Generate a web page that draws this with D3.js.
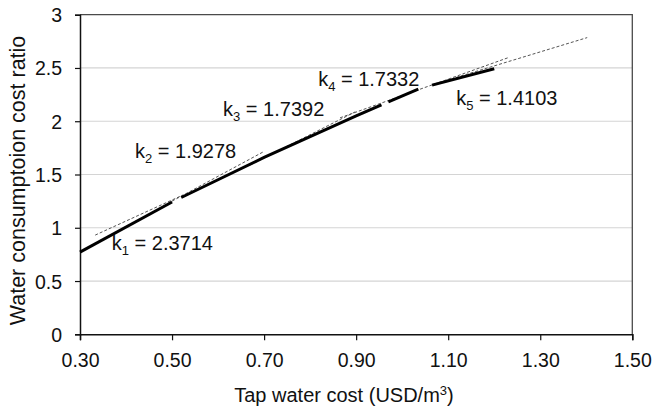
<!DOCTYPE html>
<html>
<head>
<meta charset="utf-8">
<script src="https://cdn.jsdelivr.net/npm/d3@7"></script>
<style>
  html, body { margin: 0; padding: 0; background: #fff; }
  svg { display: block; font-family: "Liberation Sans", Arial, sans-serif; }
</style>
</head>
<body>
<svg id="chart" width="654" height="409"></svg>
<script>
// ---- data ----
const xTicks = [0.30, 0.50, 0.70, 0.90, 1.10, 1.30, 1.50];
const yTicks = [0, 0.5, 1, 1.5, 2, 2.5, 3];
const xTickLabels = ["0.30", "0.50", "0.70", "0.90", "1.10", "1.30", "1.50"];
const yTickLabels = ["0", "0.5", "1", "1.5", "2", "2.5", "3"];

// piecewise curve (solid segments)
const seg1 = [[0.30, 0.771], [0.50, 1.242]];
const seg2 = [[0.52, 1.284], [0.70, 1.660], [0.90, 2.051], [0.955, 2.153]];
const seg3 = [[0.97, 2.181], [1.035, 2.301]];
const seg4 = [[1.065, 2.339], [1.20, 2.493]];
const solidSegments = [seg1, seg2, seg3, seg4];

// fitted slope lines (dashed)
const trend1 = [[0.333, 0.931], [0.524, 1.308]];
const trend2 = [[0.50, 1.250], [0.698, 1.712]];
const trend3 = [[0.670, 1.590], [0.898, 2.088]];
const trend4 = [[0.865, 2.032], [1.230, 2.596]];
const trend5 = [[1.065, 2.342], [1.402, 2.785]];
const trendLines = [trend1, trend2, trend3, trend4, trend5];

const slopeNames = ["1", "2", "3", "4", "5"];
const slopeValues = ["2.3714", "1.9278", "1.7392", "1.7332", "1.4103"];
// label anchor points in data units
const labelAnchors = [[0.369, 0.790], [0.4196, 1.656], [0.6109, 2.051], [0.8174, 2.333], [1.1174, 2.154]];

const xTitle = "Tap water cost (USD/m";
const yTitle = "Water consumptoion cost ratio";

// ---- layout ----
const svg = d3.select("#chart");
const mLeft = 80, mRight = 632.3, mTop = 14.7, mBottom = 334.3;

const x = d3.scaleLinear().domain([0.30, 1.50]).range([mLeft, mRight]);
const y = d3.scaleLinear().domain([0, 3]).range([mBottom, mTop]);

// gridlines
svg.append("g")
  .selectAll("line")
  .data(yTicks.filter(v => v > 0 && v < 3))
  .join("line")
  .attr("x1", mLeft).attr("x2", mRight)
  .attr("y1", d => y(d)).attr("y2", d => y(d))
  .attr("stroke", "#d4d4d4").attr("stroke-width", 1.2);

// plot area border (top & right)
svg.append("path")
  .attr("d", `M${mLeft},${y(3)}H${x(1.50)}V${y(0)}`)
  .attr("fill", "none").attr("stroke", "#4a4a4a").attr("stroke-width", 1.3);

// axes
const xAxis = d3.axisBottom(x).tickValues(xTicks).tickSize(6).tickPadding(13)
  .tickFormat((d, i) => xTickLabels[i]);
const yAxis = d3.axisLeft(y).tickValues(yTicks).tickSize(5).tickPadding(13)
  .tickFormat((d, i) => yTickLabels[i]);

const gx = svg.append("g").attr("transform", `translate(0,${mBottom})`).call(xAxis);
const gy = svg.append("g").attr("transform", `translate(${mLeft},0)`).call(yAxis);
[gx, gy].forEach(g => {
  g.select(".domain").attr("stroke", "#111").attr("stroke-width", 1.5);
  g.selectAll(".tick line").attr("stroke", "#111").attr("stroke-width", 1.2);
  g.selectAll(".tick text").attr("fill", "#111")
    .style("font-size", "19.5px").style("font-family", "'Liberation Sans', Arial, sans-serif");
});
gy.selectAll(".tick text").attr("dy", "0.36em");

// lines
const line = d3.line().x(d => x(d[0])).y(d => y(d[1]));

svg.append("g").selectAll("path")
  .data(trendLines)
  .join("path")
  .attr("d", line)
  .attr("fill", "none")
  .attr("stroke", "#555")
  .attr("stroke-width", 1)
  .attr("stroke-dasharray", "3,2");

svg.append("g").selectAll("path")
  .data(solidSegments)
  .join("path")
  .attr("d", line)
  .attr("fill", "none")
  .attr("stroke", "#000")
  .attr("stroke-width", 3)
  .attr("stroke-linecap", "butt");

// slope labels
const lbl = svg.append("g").selectAll("text")
  .data(slopeValues)
  .join("text")
  .attr("x", (d, i) => x(labelAnchors[i][0]))
  .attr("y", (d, i) => y(labelAnchors[i][1]))
  .attr("fill", "#111")
  .style("font-size", "20px");
lbl.append("tspan").text("k");
lbl.append("tspan").attr("dy", 5).style("font-size", "13px").text((d, i) => slopeNames[i]);
lbl.append("tspan").attr("dy", -5).text(d => " = " + d);

// axis titles
const xt = svg.append("text")
  .attr("x", 344).attr("y", 402)
  .attr("text-anchor", "middle")
  .attr("fill", "#111")
  .style("font-size", "20px");
xt.append("tspan").text(xTitle);
xt.append("tspan").attr("dy", -7).style("font-size", "13px").text("3");
xt.append("tspan").attr("dy", 7).text(")");

svg.append("text")
  .attr("transform", `translate(25,${(28 + 333) / 2}) rotate(-90)`)
  .attr("text-anchor", "middle")
  .attr("fill", "#111")
  .style("font-size", "21.5px")
  .text(yTitle);
</script>
</body>
</html>
